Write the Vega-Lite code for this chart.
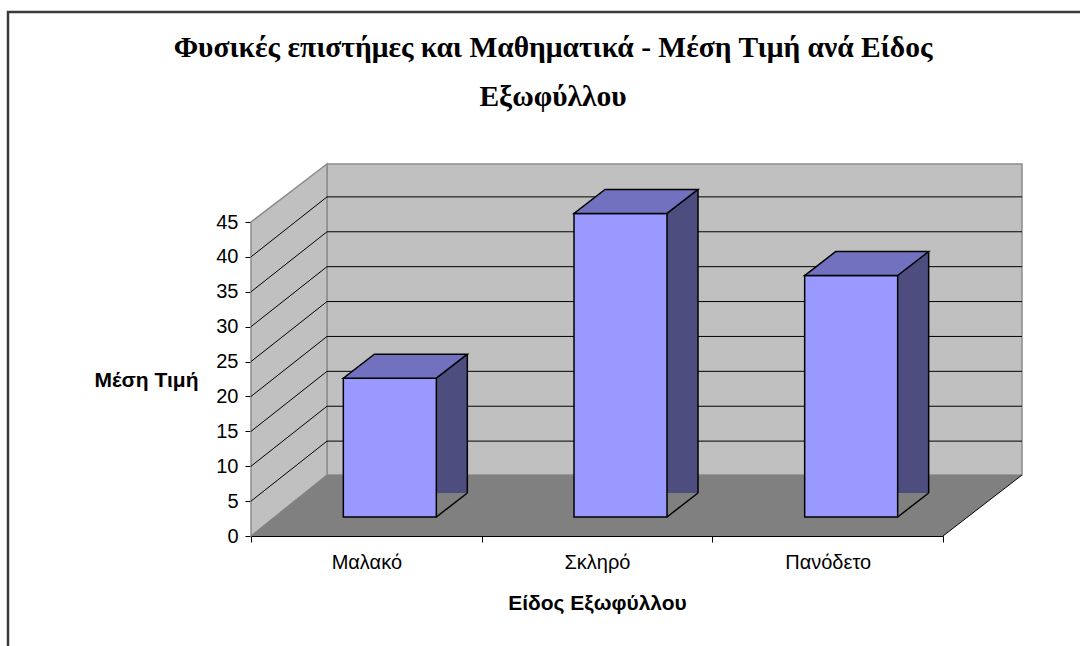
{
  "$schema": "https://vega.github.io/schema/vega-lite/v6.json",
  "autosize": "none",
  "width": 692,
  "height": 314,
  "padding": {"left": 251, "top": 222, "right": 137, "bottom": 110},
  "background": "white",
  "config": {"view": {"stroke": null}, "font": "Liberation Sans", "axisY": {"labelOverlap": false, "tickCount": 10}},
  "title": {
    "text": ["Φυσικές επιστήμες και Μαθηματικά - Μέση Τιμή ανά Είδος", "Εξωφύλλου"],
    "font": "Liberation Serif",
    "fontSize": 29.5,
    "fontWeight": "bold",
    "color": "black",
    "lineHeight": 49,
    "anchor": "middle",
    "frame": "group",
    "dx": -44,
    "baseline": "top",
    "offset": 0,
    "dy": 105
  },
  "datasets": {
    "bars": [
      {"cover": "Μαλακό", "mean": 19.9},
      {"cover": "Σκληρό", "mean": 43.5},
      {"cover": "Πανόδετο", "mean": 34.6}
    ]
  },
  "layer": [
    {
      "data": {"values": [{}]},
      "mark": {"type": "point", "shape": "M -589,-524 L 520,-524 L 520,130 L -589,130 Z", "size": 4, "filled": false, "stroke": "#3a3a3a", "strokeWidth": 2.5, "opacity": 1},
      "encoding": {
        "x": {"datum": "Σκληρό", "type": "nominal", "scale": {"type": "band", "domain": ["Μαλακό", "Σκληρό", "Πανόδετο"], "paddingInner": 0, "paddingOuter": 0},
          "axis": {"title": "Είδος Εξωφύλλου", "labelAngle": 0, "labelAlign": "center", "labelBaseline": "middle", "tickBand": "extent", "domainColor": "black", "tickColor": "black", "tickSize": 6, "labelFontSize": 20, "labelColor": "black", "labelPadding": 20, "titleFontSize": 21, "titleFontWeight": "bold", "titleColor": "black", "titleY": 67, "titleBaseline": "middle", "grid": false}},
        "y": {"datum": 0, "type": "quantitative", "scale": {"domain": [0, 45], "nice": false},
          "axis": {"title": "Μέση Τιμή", "values": [0, 5, 10, 15, 20, 25, 30, 35, 40, 45], "labelOverlap": false, "grid": false, "domainColor": "black", "tickColor": "black", "tickSize": 6, "labelFontSize": 20, "labelColor": "black", "labelPadding": 7, "titleFontSize": 21, "titleFontWeight": "bold", "titleColor": "black", "titleAngle": 0, "titleX": -105, "titleY": 158, "titleAlign": "center", "titleBaseline": "middle"}}
      }
    },
    {
      "data": {"values": [{}]},
      "mark": {"type": "point", "shape": "M -270,-372 L 425,-372 L 425,-61 L -270,-61 Z", "size": 4, "filled": true, "fill": "#C0C0C0", "stroke": "#8c8c8c", "strokeWidth": 1.5, "opacity": 1},
      "encoding": {"x": {"datum": "Σκληρό", "type": "nominal"}, "y": {"datum": 0, "type": "quantitative"}}
    },
    {
      "data": {"values": [{}]},
      "mark": {"type": "point", "shape": "M -346,0 L -346,-314 L -270,-372 L -270,-61 Z", "size": 4, "filled": true, "fill": "#C0C0C0", "stroke": "#8c8c8c", "strokeWidth": 1.5, "opacity": 1},
      "encoding": {"x": {"datum": "Σκληρό", "type": "nominal"}, "y": {"datum": 0, "type": "quantitative"}}
    },
    {
      "data": {"values": [{}]},
      "mark": {"type": "point", "shape": "M -346,0 L 346,0 L 425,-61 L -270,-61 Z", "size": 4, "filled": true, "fill": "#808080", "strokeWidth": 0, "opacity": 1},
      "encoding": {"x": {"datum": "Σκληρό", "type": "nominal"}, "y": {"datum": 0, "type": "quantitative"}}
    },
    {
      "data": {"values": [{}]},
      "mark": {"type": "point", "shape": "M 346,0 L 425,-61", "size": 4, "filled": false, "stroke": "black", "strokeWidth": 1, "opacity": 1},
      "encoding": {"x": {"datum": "Σκληρό", "type": "nominal"}, "y": {"datum": 0, "type": "quantitative"}}
    },
    {"data": {"values": [{}]}, "mark": {"type": "point", "shape": "M -346,0 L -270,-60 L 425,-60", "size": 4, "filled": false, "stroke": "black", "strokeWidth": 1, "opacity": 1}, "encoding": {"x": {"datum": "Σκληρό", "type": "nominal"}, "y": {"datum": 5, "type": "quantitative"}}},
    {"data": {"values": [{}]}, "mark": {"type": "point", "shape": "M -346,0 L -270,-60 L 425,-60", "size": 4, "filled": false, "stroke": "black", "strokeWidth": 1, "opacity": 1}, "encoding": {"x": {"datum": "Σκληρό", "type": "nominal"}, "y": {"datum": 10, "type": "quantitative"}}},
    {"data": {"values": [{}]}, "mark": {"type": "point", "shape": "M -346,0 L -270,-60 L 425,-60", "size": 4, "filled": false, "stroke": "black", "strokeWidth": 1, "opacity": 1}, "encoding": {"x": {"datum": "Σκληρό", "type": "nominal"}, "y": {"datum": 15, "type": "quantitative"}}},
    {"data": {"values": [{}]}, "mark": {"type": "point", "shape": "M -346,0 L -270,-60 L 425,-60", "size": 4, "filled": false, "stroke": "black", "strokeWidth": 1, "opacity": 1}, "encoding": {"x": {"datum": "Σκληρό", "type": "nominal"}, "y": {"datum": 20, "type": "quantitative"}}},
    {"data": {"values": [{}]}, "mark": {"type": "point", "shape": "M -346,0 L -270,-60 L 425,-60", "size": 4, "filled": false, "stroke": "black", "strokeWidth": 1, "opacity": 1}, "encoding": {"x": {"datum": "Σκληρό", "type": "nominal"}, "y": {"datum": 25, "type": "quantitative"}}},
    {"data": {"values": [{}]}, "mark": {"type": "point", "shape": "M -346,0 L -270,-60 L 425,-60", "size": 4, "filled": false, "stroke": "black", "strokeWidth": 1, "opacity": 1}, "encoding": {"x": {"datum": "Σκληρό", "type": "nominal"}, "y": {"datum": 30, "type": "quantitative"}}},
    {"data": {"values": [{}]}, "mark": {"type": "point", "shape": "M -346,0 L -270,-60 L 425,-60", "size": 4, "filled": false, "stroke": "black", "strokeWidth": 1, "opacity": 1}, "encoding": {"x": {"datum": "Σκληρό", "type": "nominal"}, "y": {"datum": 35, "type": "quantitative"}}},
    {"data": {"values": [{}]}, "mark": {"type": "point", "shape": "M -346,0 L -270,-60 L 425,-60", "size": 4, "filled": false, "stroke": "black", "strokeWidth": 1, "opacity": 1}, "encoding": {"x": {"datum": "Σκληρό", "type": "nominal"}, "y": {"datum": 40, "type": "quantitative"}}},
    {
      "data": {"name": "bars"},
      "mark": {"type": "bar", "width": 31, "xOffset": 85.5, "yOffset": -43, "y2Offset": -19, "fill": "#4D4D80", "strokeWidth": 0},
      "encoding": {"x": {"field": "cover", "type": "nominal"}, "y": {"field": "mean", "type": "quantitative"}}
    },
    {
      "data": {"name": "bars"},
      "mark": {"type": "point", "shape": "M 70,-19 L 101,-43 L 102,-43 L 102,-18 L 70,-18 Z", "size": 4, "filled": true, "fill": "#808080", "strokeWidth": 0, "opacity": 1},
      "encoding": {"x": {"field": "cover", "type": "nominal"}, "y": {"datum": 0, "type": "quantitative"}}
    },
    {
      "data": {"name": "bars"},
      "mark": {"type": "point", "shape": "M 70,-19 L 101,-43", "size": 4, "filled": false, "stroke": "black", "strokeWidth": 1.5, "opacity": 1},
      "encoding": {"x": {"field": "cover", "type": "nominal"}, "y": {"datum": 0, "type": "quantitative"}}
    },
    {
      "data": {"name": "bars"},
      "mark": {"type": "rule", "xOffset": 101, "yOffset": -43, "y2Offset": -43, "stroke": "black", "strokeWidth": 1.5},
      "encoding": {"x": {"field": "cover", "type": "nominal"}, "y": {"field": "mean", "type": "quantitative"}, "y2": {"datum": 0}}
    },
    {
      "data": {"name": "bars"},
      "mark": {"type": "bar", "width": 93, "xOffset": 23.5, "yOffset": -19, "y2Offset": -19, "fill": "#9999FF", "stroke": "black", "strokeWidth": 1.5},
      "encoding": {
        "x": {"field": "cover", "type": "nominal", "sort": null},
        "y": {"field": "mean", "type": "quantitative"}
      }
    },
    {
      "data": {"name": "bars"},
      "mark": {"type": "point", "shape": "M -23,-19 L 70,-19 L 101,-43 L 8,-43 Z", "size": 4, "filled": true, "fill": "#7171BF", "stroke": "black", "strokeWidth": 1.5, "opacity": 1},
      "encoding": {"x": {"field": "cover", "type": "nominal"}, "y": {"field": "mean", "type": "quantitative"}}
    }
  ]
}
